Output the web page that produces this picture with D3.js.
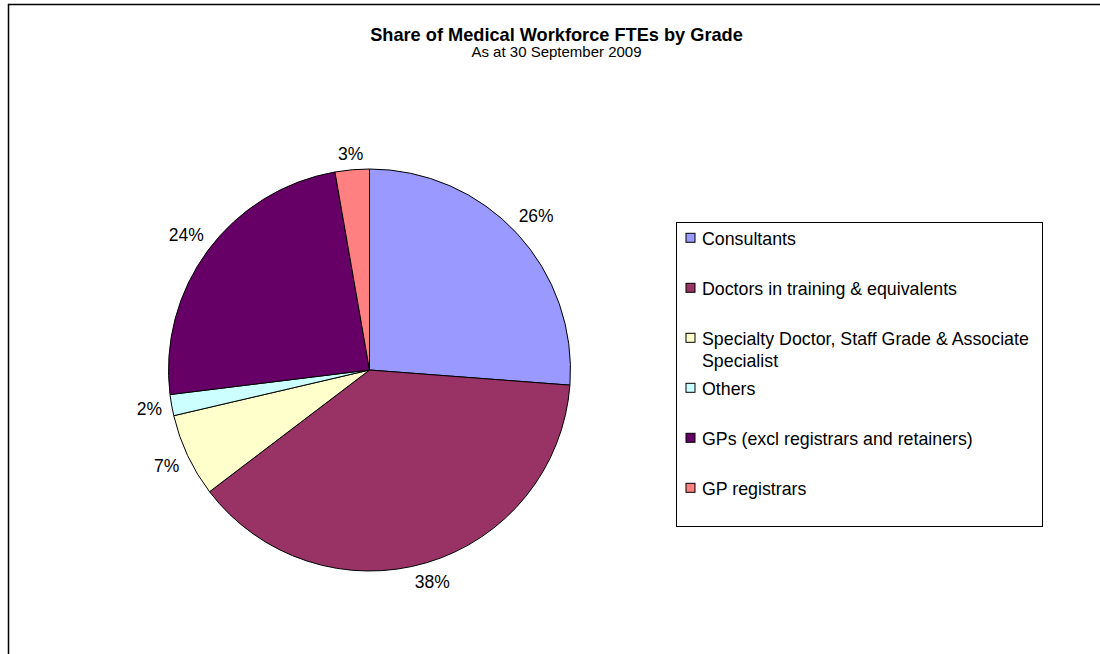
<!DOCTYPE html>
<html>
<head>
<meta charset="utf-8">
<script src="https://cdn.jsdelivr.net/npm/d3@7"></script>
<style>
  html, body { margin: 0; padding: 0; background: #fff; }
  svg { display: block; }
  text { font-family: "Liberation Sans", Arial, sans-serif; fill: #000; }
</style>
</head>
<body>
<svg id="chart" width="1100" height="654"></svg>
<script>
const title = "Share of Medical Workforce FTEs by Grade";
const subtitle = "As at 30 September 2009";
const categories = [
  "Consultants",
  "Doctors in training & equivalents",
  "Specialty Doctor, Staff Grade & Associate Specialist",
  "Others",
  "GPs (excl registrars and retainers)",
  "GP registrars"
];
const legendLines = [
  ["Consultants"],
  ["Doctors in training & equivalents"],
  ["Specialty Doctor, Staff Grade & Associate", "Specialist"],
  ["Others"],
  ["GPs (excl registrars and retainers)"],
  ["GP registrars"]
];
const values = [26.2, 38.45, 6.7, 1.7, 24.2, 2.75];
const colors = ["#9999FF", "#993366", "#FFFFCC", "#CCFFFF", "#660066", "#FF8080"];

const svg = d3.select("#chart");

// outer chart frame
svg.append("rect")
  .attr("x", 8.5).attr("y", 4.5)
  .attr("width", 1100).attr("height", 700)
  .attr("fill", "#fff").attr("stroke", "#000").attr("stroke-width", 1.5);

// titles
svg.append("text").attr("x", 556.5).attr("y", 41)
  .attr("text-anchor", "middle").attr("font-weight", "bold").attr("font-size", 18.2)
  .text(title);
svg.append("text").attr("x", 556.5).attr("y", 57)
  .attr("text-anchor", "middle").attr("font-size", 15)
  .text(subtitle);

// pie
const cx = 369.5, cy = 370, r = 201;
const total = d3.sum(values);
const pie = d3.pie().sort(null).value(d => d)(values);
const arc = d3.arc().innerRadius(0).outerRadius(r);
const g = svg.append("g").attr("transform", `translate(${cx},${cy})`);
g.selectAll("path").data(pie).join("path")
  .attr("d", arc)
  .attr("fill", (d, i) => colors[i])
  .attr("stroke", "#000").attr("stroke-width", 1);

const fmt = d3.format(".0%");
const labels = g.selectAll("text.lbl").data(pie).join("text")
  .attr("class", "lbl")
  .attr("font-size", 17.5)
  .attr("text-anchor", "middle")
  .attr("dy", "0.36em")
  .text(d => fmt(d.value / total));
labels.each(function(d) {
  const a = (d.startAngle + d.endAngle) / 2;
  const ux = Math.sin(a), uy = -Math.cos(a);
  const w = this.getComputedTextLength(), h = 13;
  const dist = r + 9 + Math.abs(ux) * w / 2 + Math.abs(uy) * h / 2;
  d3.select(this).attr("x", ux * dist).attr("y", uy * dist);
});

// legend
const lg = svg.append("g");
lg.append("rect")
  .attr("x", 676.5).attr("y", 222.5)
  .attr("width", 366).attr("height", 304)
  .attr("fill", "#fff").attr("stroke", "#000").attr("stroke-width", 1);
const rowY = d3.scalePoint().domain(d3.range(categories.length)).range([238.3, 488.3]);
const items = lg.selectAll("g.item").data(categories).join("g").attr("class", "item");
items.append("rect")
  .attr("x", 686).attr("y", (d, i) => rowY(i) - 5)
  .attr("width", 9).attr("height", 9)
  .attr("fill", (d, i) => colors[i])
  .attr("stroke", "#000").attr("stroke-width", 1);
items.each(function(d, i) {
  const t = d3.select(this).append("text")
    .attr("x", 702).attr("y", rowY(i) + 6.3)
    .attr("font-size", 17.8);
  legendLines[i].forEach((line, k) => {
    t.append("tspan").attr("x", 702).attr("dy", k === 0 ? 0 : 22.4).text(line);
  });
});
</script>
</body>
</html>
